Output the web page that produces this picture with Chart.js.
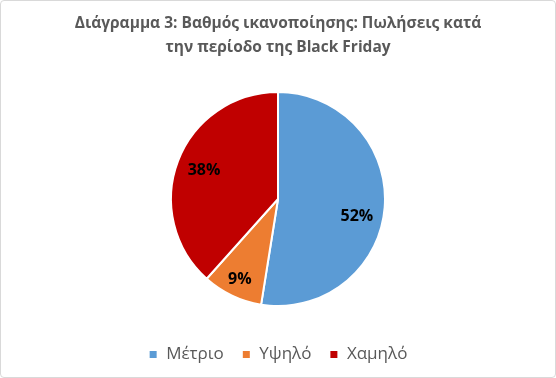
<!DOCTYPE html>
<html>
<head>
<meta charset="utf-8">
<script src="https://cdn.jsdelivr.net/npm/chart.js@4"></script>
<style>
  html, body { margin: 0; padding: 0; background: #fff; }
  .chart-container {
    width: 554px; height: 376px;
    border: 1px solid #d9d9d9; border-radius: 4px;
    position: relative;
  }
</style>
</head>
<body>
<div class="chart-container"><canvas id="chart"></canvas></div>
<script>
const titleLines = ['Διάγραμμα 3: Βαθμός ικανοποίησης: Πωλήσεις κατά', 'την περίοδο της Black Friday'];
const categories = ['Μέτριο', 'Υψηλό', 'Χαμηλό'];
const percentages = [52, 9, 38];
const sliceColors = ['#5b9bd5', '#ed7d31', '#c00000'];

// Draw the percentage labels inside each slice
const sliceLabels = {
  id: 'sliceLabels',
  afterDatasetsDraw(chart, args, opts) {
    const { ctx } = chart;
    const meta = chart.getDatasetMeta(0);
    ctx.save();
    ctx.font = 'bold 16px "Open Sans", sans-serif';
    ctx.fillStyle = '#000';
    ctx.textAlign = 'center';
    ctx.textBaseline = 'middle';
    meta.data.forEach((arc, i) => {
      const { x, y, startAngle, endAngle, outerRadius } = arc.getProps(['x', 'y', 'startAngle', 'endAngle', 'outerRadius'], true);
      const mid = (startAngle + endAngle) / 2;
      const f = opts.dist[i];
      const nudge = opts.nudgeY[i];
      ctx.fillText(percentages[i] + '%', x + Math.cos(mid) * outerRadius * f, y + Math.sin(mid) * outerRadius * f + nudge);
    });
    ctx.restore();
  }
};

new Chart(document.getElementById('chart').getContext('2d'), {
  type: 'pie',
  data: {
    labels: categories,
    datasets: [{
      data: percentages,
      backgroundColor: sliceColors,
      borderColor: '#ffffff',
      borderWidth: 2,
    }],
  },
  plugins: [sliceLabels],
  options: {
    responsive: true,
    maintainAspectRatio: false,
    animation: false,
    radius: 107,
    layout: { padding: { top: 3, bottom: 4 } },
    plugins: {
      sliceLabels: { dist: [0.74, 0.83, 0.74], nudgeY: [11, 0, 0] },
      title: {
        display: true,
        text: titleLines,
        color: '#595959',
        font: { family: '"Open Sans", sans-serif', size: 15.5, weight: 'bold', lineHeight: 1.55 },
        padding: { top: 8, bottom: 10 },
      },
      legend: {
        position: 'bottom',
        labels: {
          color: '#595959',
          font: { family: '"Open Sans", sans-serif', size: 17 },
          usePointStyle: true,
          pointStyle: 'rect',
          boxWidth: 9,
          boxHeight: 9,
          padding: 18,
        },
      },
      tooltip: { enabled: false },
    },
  },
});
</script>
</body>
</html>
